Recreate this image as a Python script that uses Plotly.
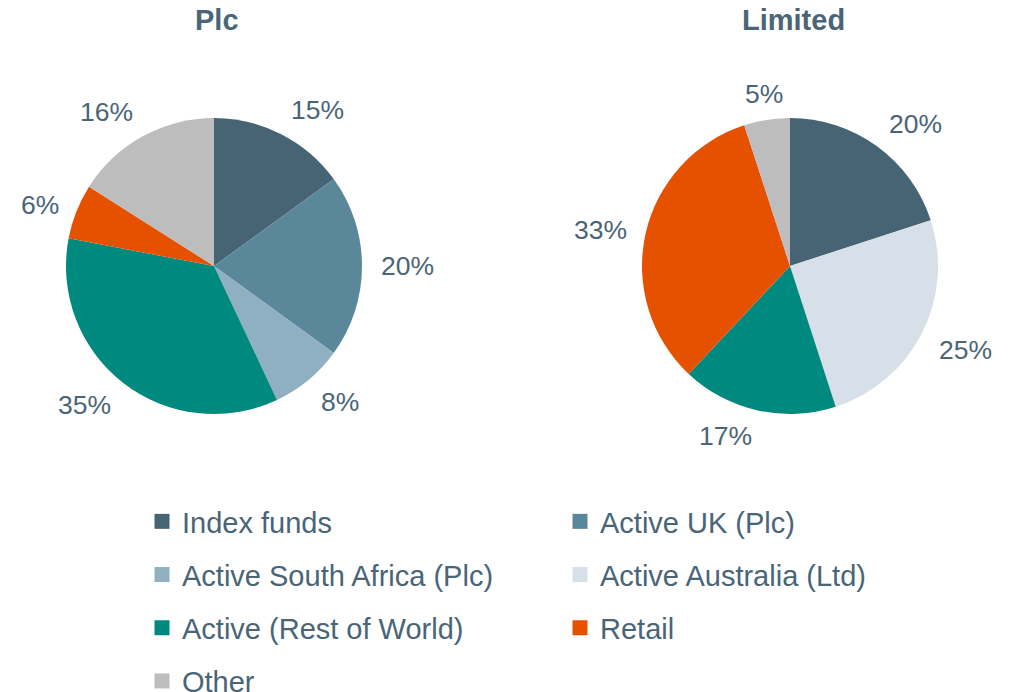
import math
import plotly.graph_objects as go

W, H = 1012, 692
TEXT = "#496577"
FONT = "Liberation Sans, Arial, sans-serif"

categories = ["Index funds", "Active UK (Plc)", "Active South Africa (Plc)",
              "Active Australia (Ltd)", "Active (Rest of World)", "Retail", "Other"]
colors = ["#476475", "#5a8799", "#8fb0c0", "#d7e0e8", "#00897e", "#e65100", "#bdbdbd"]
color_map = dict(zip(categories, colors))

plc_labels = ["Index funds", "Active UK (Plc)", "Active South Africa (Plc)",
              "Active (Rest of World)", "Retail", "Other"]
plc_values = [15, 20, 8, 35, 6, 16]

ltd_labels = ["Index funds", "Active Australia (Ltd)", "Active (Rest of World)", "Retail", "Other"]
ltd_values = [20, 25, 17, 33, 5]

titles = ["Plc", "Limited"]

# pie layout (pixels)
R = 148
centers = [(214, 266), (790, 266)]
label_gap = 17
vpad = 8  # compensates the annotation line-height padding

fig = go.Figure()

annotations = []
for (cx, cy), labels, values, title in zip(centers, [plc_labels, ltd_labels],
                                           [plc_values, ltd_values], titles):
    dom_x = [(cx - R) / W, (cx + R) / W]
    dom_y = [1 - (cy + R) / H, 1 - (cy - R) / H]
    fig.add_trace(go.Pie(
        labels=labels, values=values, sort=False, direction="clockwise",
        rotation=0, domain=dict(x=dom_x, y=dom_y),
        marker=dict(colors=[color_map[l] for l in labels], line=dict(width=0)),
        textinfo="none", showlegend=False, hoverinfo="label+percent",
    ))
    annotations.append(dict(
        x=cx / W + 0.003, y=1 - 20 / H, xref="paper", yref="paper",
        text=f"<b>{title}</b>", showarrow=False, xanchor="center", yanchor="middle",
        font=dict(size=29, color=TEXT, family=FONT),
    ))
    total = sum(values)
    cum = 0
    for v in values:
        mid = (cum + v / 2) / total * 2 * math.pi
        cum += v
        dx, dy = math.sin(mid), -math.cos(mid)
        rr = R + label_gap
        px, py = cx + rr * dx, cy + rr * dy
        if abs(dx) < 0.2:
            xa = "center"
        else:
            xa = "left" if dx > 0 else "right"
        if abs(dy) < 0.4:
            ya = "middle"
        elif dy < 0:
            ya = "bottom"
            py += vpad
        else:
            ya = "top"
            py -= vpad
        annotations.append(dict(
            x=px / W, y=1 - py / H, xref="paper", yref="paper",
            text=f"{round(v / total * 100)}%", showarrow=False,
            xanchor=xa, yanchor=ya,
            font=dict(size=26.5, color=TEXT, family=FONT),
        ))

# legend entries (two columns)
col1 = ["Index funds", "Active South Africa (Plc)", "Active (Rest of World)", "Other"]
col2 = ["Active UK (Plc)", "Active Australia (Ltd)", "Retail"]
for legname, col in [("legend", col1), ("legend2", col2)]:
    for name in col:
        fig.add_trace(go.Scatter(
            x=[None], y=[None], mode="markers", name=name,
            marker=dict(symbol="square", size=15, color=color_map[name]),
            legend=legname, legendgroup=name, showlegend=True, hoverinfo="skip",
        ))

leg_common = dict(
    orientation="v", yanchor="top", xanchor="left",
    font=dict(size=29, color=TEXT, family=FONT),
    bgcolor="rgba(0,0,0,0)", tracegroupgap=12.5, itemclick=False, itemdoubleclick=False,
)
fig.update_layout(
    width=W, height=H,
    margin=dict(l=0, r=0, t=0, b=0, autoexpand=False),
    paper_bgcolor="white", plot_bgcolor="white",
    xaxis=dict(visible=False), yaxis=dict(visible=False),
    annotations=annotations,
    legend=dict(x=142 / W, y=1 - 496 / H, **leg_common),
    legend2=dict(x=560 / W, y=1 - 496 / H, **leg_common),
    showlegend=True,
)

fig.write_html(
    "out.html",
    config={"displayModeBar": False},
    post_script="document.body.style.margin='0';document.body.style.overflow='hidden';",
)
